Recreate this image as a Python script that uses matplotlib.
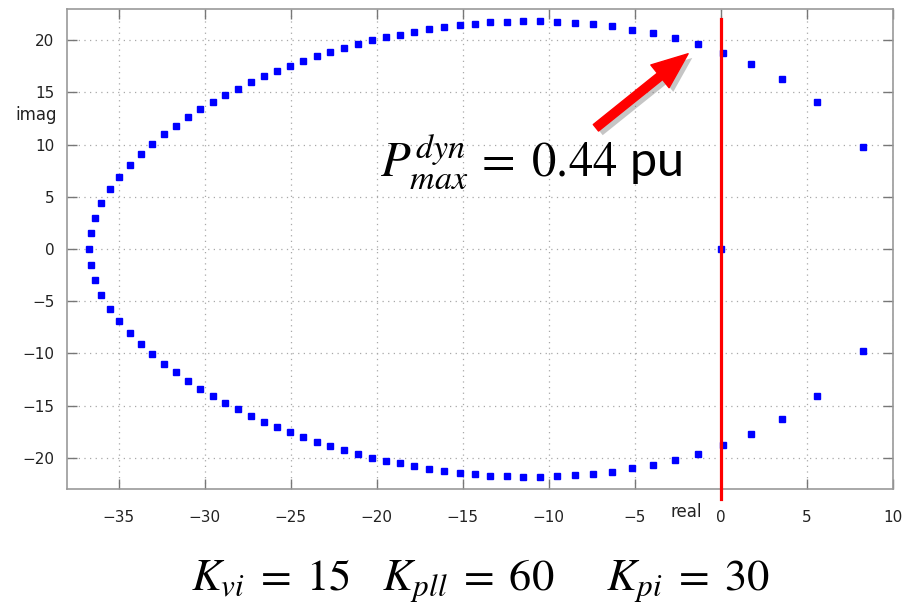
import numpy as np
import matplotlib
matplotlib.use("Agg")
import matplotlib.pyplot as plt
import matplotlib.patheffects as pe
from matplotlib.patches import FancyArrowPatch

# eigenvalues (upper half, conjugates mirrored below)
upper_real = [-36.62, -36.37, -36.02, -35.52, -34.98, -34.36, -33.70, -33.06, -32.37, -31.67,
              -30.96, -30.26, -29.52, -28.81, -28.04, -27.30, -26.57, -25.78, -25.04, -24.27,
              -23.49, -22.70, -21.91, -21.11, -20.30, -19.49, -18.66, -17.83, -16.96, -16.09,
              -15.18, -14.31, -13.40, -12.45, -11.53, -10.54, -9.54, -8.49, -7.41, -6.32,
              -5.14, -3.97, -2.67, -1.33, 0.15, 1.74, 3.54, 5.59, 8.24]
upper_imag = [1.53, 2.97, 4.43, 5.71, 6.92, 8.04, 9.09, 10.08, 10.98, 11.80,
              12.66, 13.37, 14.10, 14.74, 15.38, 15.98, 16.56, 17.10, 17.54, 18.06,
              18.50, 18.88, 19.26, 19.65, 20.00, 20.29, 20.55, 20.83, 21.05, 21.27,
              21.44, 21.56, 21.72, 21.79, 21.82, 21.82, 21.75, 21.69, 21.53, 21.34,
              21.02, 20.70, 20.22, 19.62, 18.82, 17.77, 16.30, 14.10, 9.79]
axis_real = [-36.72, 0.0]
axis_imag = [0.0, 0.0]

x_ticks = [-35, -30, -25, -20, -15, -10, -5, 0, 5, 10]
y_ticks = [-20, -15, -10, -5, 0, 5, 10, 15, 20]

# arrow pointing at the crossing eigenvalue
arrow_tail = (-7.39, 11.45)
arrow_tip = (-1.78, 18.88)

re = np.concatenate([upper_real, upper_real, axis_real])
im = np.concatenate([upper_imag, -np.array(upper_imag), axis_imag])

plt.rcParams['mathtext.fontset'] = 'stix'

fig = plt.figure(figsize=(9.08, 6.03), dpi=100)
ax = fig.add_axes([67 / 908, 1 - 489 / 603, (893 - 67) / 908, (489 - 9) / 603])

ax.plot(re, im, 's', color='#0000ff', ms=4.3, mec='#0000ff', zorder=3)

ax.set_xlim(-38, 10)
ax.set_ylim(-23, 23)
ax.set_xticks(x_ticks)
ax.set_yticks(y_ticks)
ax.grid(True, color='#a8a8a8', linestyle=(0, (1, 3.5)), linewidth=0.9)
ax.tick_params(direction='in', length=7.5, width=1, color='#777777',
               top=True, right=True, labelsize=11, labelcolor='#222222')
ax.tick_params(axis='x', pad=15)
ax.tick_params(axis='y', pad=9)
for s in ax.spines.values():
    s.set_color('#999999')
    s.set_linewidth(1.2)

# red stability boundary, running a bit past the bottom border
ax.plot([0, 0], [22.0, -24.0], color='red', lw=2.3, clip_on=False, zorder=4)

arrow = FancyArrowPatch(arrow_tail, arrow_tip,
                        arrowstyle='simple,head_length=1.3,head_width=1.05,tail_width=0.3',
                        mutation_scale=20, color='red', zorder=5)
arrow.set_path_effects([pe.SimplePatchShadow(offset=(3, -3), shadow_rgbFace='gray', alpha=0.45),
                        pe.Normal()])
ax.add_patch(arrow)

fig.text(36.5 / 908, 1 - 115 / 603, 'imag', fontsize=12, color='#222222',
         ha='center', va='center')
fig.text(686 / 908, 1 - 512 / 603, 'real', fontsize=12, color='#222222',
         ha='center', va='center')

fig.text(380 / 908, 1 - 176 / 603, r'$P_{max}^{dyn}\,=\;0.44$ pu', fontsize=35,
         family='Lato', ha='left', va='baseline')
fig.text(480 / 908, 1 - 590 / 603,
         r'$K_{vi}\;=\;15\ \ \ K_{pll}\;=\;60\ \ \ \ \ K_{pi}\;=\;30$', fontsize=32,
         ha='center', va='baseline')

fig.savefig('out.png', dpi=100)
